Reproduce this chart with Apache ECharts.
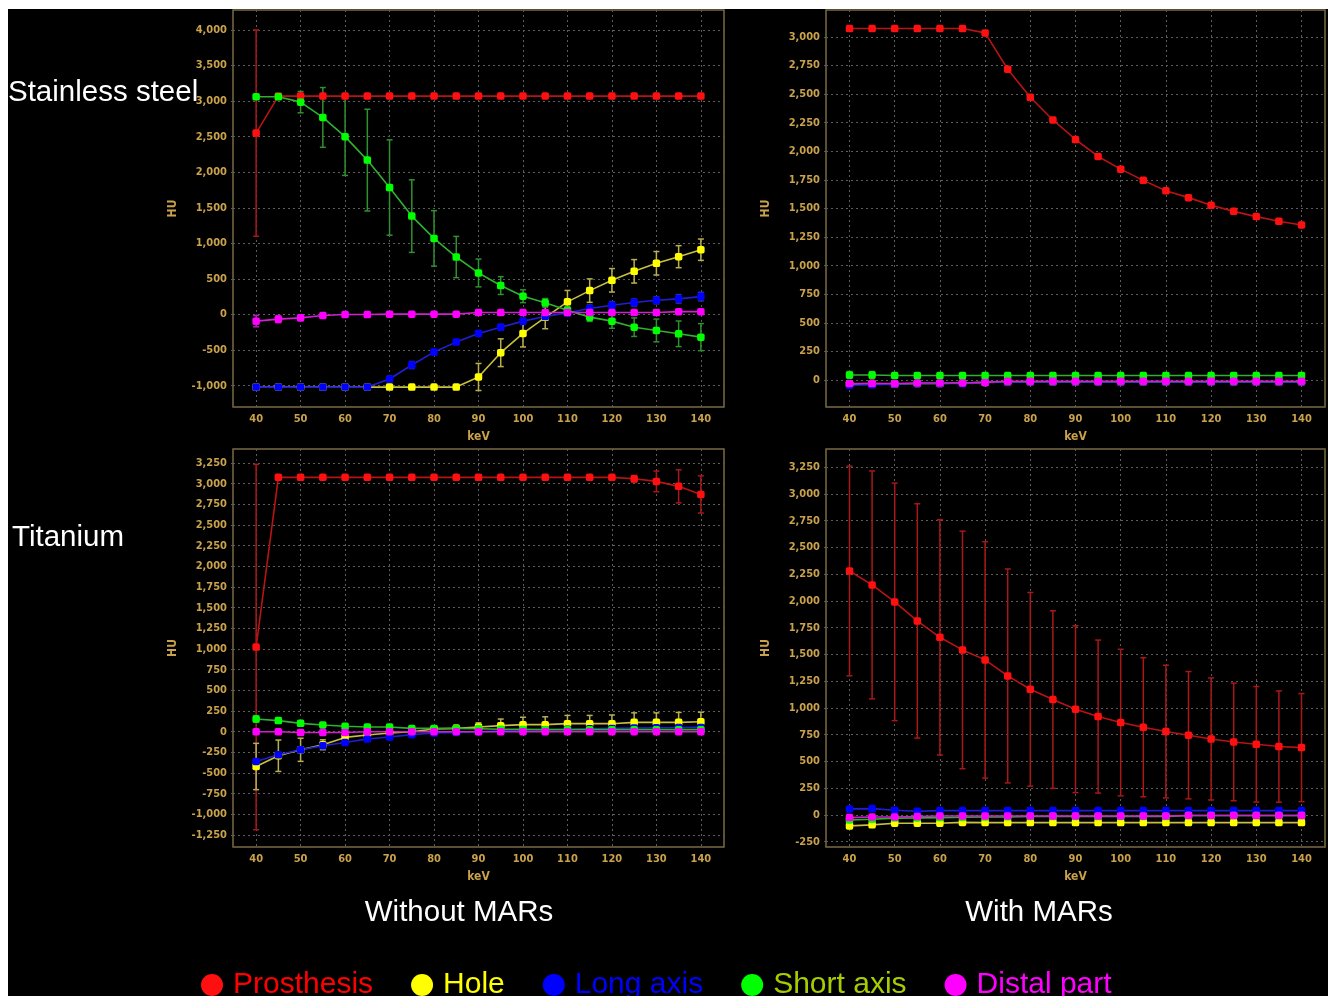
<!DOCTYPE html>
<html>
<head>
<meta charset="utf-8">
<script src="https://cdn.jsdelivr.net/npm/echarts@6.0.0/dist/echarts.min.js"></script>
<style>
  html, body { margin: 0; padding: 0; background: #fff; }
  #main { position: absolute; left: 8px; top: 9px; width: 1320px; height: 987px; background: #000; }
</style>
</head>
<body>
<div id="main"></div>
<script>
// energies (keV)
var keV = [40, 45, 50, 55, 60, 65, 70, 75, 80, 85, 90, 95, 100, 105, 110, 115, 120, 125, 130, 135, 140];
var xTicks = [40, 50, 60, 70, 80, 90, 100, 110, 120, 130, 140];

// stainless steel, without MARs
var ssNoProsthesis = [2550, 3070, 3070, 3070, 3070, 3070, 3070, 3070, 3070, 3070, 3070, 3070, 3070, 3070, 3070, 3070, 3070, 3070, 3070, 3070, 3070];
var ssNoProsthesisErr = [1450, 0, 0, 0, 0, 0, 0, 0, 0, 0, 0, 0, 0, 0, 0, 0, 0, 0, 0, 0, 0];
var ssNoHole = [-1020, -1020, -1020, -1020, -1020, -1020, -1020, -1020, -1020, -1020, -878, -537, -266, -40, 178, 336, 481, 607, 720, 813, 911];
var ssNoHoleErr = [0, 0, 0, 0, 0, 0, 0, 0, 0, 10, 190, 195, 190, 160, 160, 165, 165, 165, 165, 155, 150];
var ssNoLong = [-1020, -1020, -1020, -1020, -1020, -1020, -906, -710, -528, -388, -266, -178, -93, -28, 23, 84, 131, 168, 200, 220, 252];
var ssNoLongErr = [10, 10, 10, 10, 10, 10, 40, 50, 30, 30, 40, 40, 40, 40, 40, 50, 50, 50, 50, 60, 60];
var ssNoShort = [3060, 3060, 2985, 2770, 2500, 2170, 1785, 1383, 1070, 808, 584, 407, 257, 164, 60, -37, -93, -178, -224, -271, -318];
var ssNoShortErr = [0, 0, 150, 420, 545, 715, 670, 510, 390, 290, 195, 125, 90, 60, 50, 60, 100, 130, 160, 180, 190];
var ssNoDistal = [-93, -65, -47, -14, 0, 0, 5, 5, 5, 5, 28, 28, 28, 28, 28, 28, 28, 28, 28, 40, 40];
var ssNoDistalErr = [80, 50, 40, 20, 15, 10, 10, 10, 10, 10, 10, 10, 10, 10, 10, 10, 10, 10, 10, 10, 10];

// stainless steel, with MARs
var ssMarProsthesis = [3073, 3073, 3073, 3073, 3073, 3073, 3035, 2718, 2472, 2274, 2103, 1955, 1844, 1746, 1655, 1595, 1528, 1475, 1429, 1388, 1356];
var ssMarHole = [-35, -30, -35, -30, -30, -25, -20, -15, -15, -15, -15, -15, -15, -15, -15, -15, -15, -15, -15, -15, -15];
var ssMarLong = [-45, -40, -35, -30, -30, -30, -20, -15, -15, -15, -15, -15, -15, -15, -15, -15, -15, -15, -15, -15, -15];
var ssMarShort = [45, 45, 40, 40, 40, 40, 40, 40, 40, 40, 40, 40, 40, 40, 40, 40, 40, 40, 40, 40, 40];
var ssMarShortErr = [30, 30, 0, 0, 0, 0, 0, 0, 0, 0, 0, 0, 0, 0, 0, 0, 0, 0, 0, 0, 0];
var ssMarDistal = [-30, -30, -30, -25, -25, -25, -20, -10, -10, -10, -10, -10, -10, -10, -10, -10, -10, -10, -10, -10, -10];

// titanium, without MARs
var tiNoProsthesis = [1024, 3077, 3077, 3077, 3077, 3077, 3077, 3077, 3077, 3077, 3077, 3077, 3077, 3077, 3077, 3077, 3077, 3060, 3028, 2968, 2870];
var tiNoProsthesisErr = [2210, 0, 0, 0, 0, 0, 0, 0, 0, 0, 0, 0, 0, 0, 0, 0, 0, 40, 125, 200, 225];
var tiNoHole = [-421, -291, -219, -158, -69, -40, -16, 0, 32, 40, 57, 73, 85, 85, 97, 97, 97, 113, 113, 113, 121];
var tiNoHoleErr = [280, 190, 140, 60, 30, 20, 20, 20, 30, 40, 50, 80, 90, 95, 100, 100, 105, 115, 115, 120, 115];
var tiNoLong = [-360, -279, -219, -170, -130, -89, -65, -36, -16, -8, 0, 10, 20, 25, 30, 35, 40, 45, 48, 50, 52];
var tiNoShort = [154, 134, 101, 81, 65, 57, 57, 40, 40, 40, 35, 30, 28, 25, 25, 25, 25, 25, 25, 25, 25];
var tiNoShortErr = [40, 30, 25, 15, 10, 10, 10, 10, 10, 10, 10, 10, 10, 10, 10, 10, 10, 10, 10, 10, 10];
var tiNoDistal = [0, 0, -10, -10, -10, 0, 0, 0, 0, 0, 0, 0, 0, 0, 0, 0, 0, 0, 0, 0, 0];

// titanium, with MARs
var tiMarProsthesis = [2280, 2150, 1991, 1813, 1660, 1542, 1449, 1299, 1174, 1078, 988, 919, 863, 819, 779, 745, 710, 682, 660, 639, 629];
var tiMarProsthesisErr = [980, 1065, 1110, 1095, 1100, 1110, 1105, 1000, 905, 830, 780, 715, 685, 650, 620, 595, 570, 550, 540, 520, 505];
var tiMarHole = [-103, -93, -78, -78, -78, -70, -72, -72, -72, -72, -72, -72, -72, -72, -72, -72, -72, -72, -72, -72, -72];
var tiMarLong = [56, 59, 44, 34, 40, 40, 40, 40, 40, 40, 40, 40, 40, 40, 40, 40, 40, 40, 40, 40, 40];
var tiMarShort = [-47, -40, -30, -28, -25, -22, -20, -18, -15, -15, -15, -15, -15, -15, -15, -6, -6, -6, -6, -6, -6];
var tiMarDistal = [-25, -20, -20, -15, -10, -10, -10, -10, -10, -10, -10, -10, -10, -10, -10, -5, -5, -5, -5, -5, -5];

var yTicksTL = [-1000, -500, 0, 500, 1000, 1500, 2000, 2500, 3000, 3500, 4000];
var yTicksTR = [0, 250, 500, 750, 1000, 1250, 1500, 1750, 2000, 2250, 2500, 2750, 3000];
var yTicksBL = [-1250, -1000, -750, -500, -250, 0, 250, 500, 750, 1000, 1250, 1500, 1750, 2000, 2250, 2500, 2750, 3000, 3250];
var yTicksBR = [-250, 0, 250, 500, 750, 1000, 1250, 1500, 1750, 2000, 2250, 2500, 2750, 3000, 3250];

var names = ['Prosthesis', 'Hole', 'Long axis', 'Short axis', 'Distal part'];
var dotColor = { 'Prosthesis': '#ff1010', 'Hole': '#ffff00', 'Long axis': '#0000ff', 'Short axis': '#00ff00', 'Distal part': '#ff00ff' };
var lineColor = { 'Prosthesis': '#b81414', 'Hole': '#c8c040', 'Long axis': '#2020d0', 'Short axis': '#30b030', 'Distal part': '#d020d0' };
var barColor = { 'Prosthesis': '#a81818', 'Hole': '#b8b050', 'Long axis': '#2828c0', 'Short axis': '#309030', 'Distal part': '#b020b0' };
var legendText = { 'Prosthesis': '#ff0000', 'Hole': '#ffff00', 'Long axis': '#0000ff', 'Short axis': '#a8cc00', 'Distal part': '#ff00ff' };

var tan = '#c9a24b';
var frame = '#7a6a45';
var grids = [
  { left: 225, top: 1, width: 491, height: 397 },
  { left: 818, top: 1, width: 499, height: 397 },
  { left: 225, top: 440, width: 491, height: 398 },
  { left: 818, top: 440, width: 499, height: 398 }
];
var yRanges = [[-1300, 4280], [-235, 3235], [-1395, 3420], [-300, 3420]];
var yTicks = [yTicksTL, yTicksTR, yTicksBL, yTicksBR];

function fmt(v) { return Number(v).toLocaleString('en-US'); }

var dotted = { color: '#5c5c5c', type: [2, 3], width: 1 };

var xAxes = grids.map(function (g, i) {
  return {
    type: 'value', gridIndex: i, min: 34.8, max: 145.2,
    name: 'keV', nameLocation: 'middle', nameGap: 24,
    nameTextStyle: { color: tan, fontSize: 12, fontWeight: 'bold', fontFamily: 'DejaVu Sans Condensed' },
    axisLine: { show: false },
    axisTick: { show: true, customValues: xTicks, length: 4, lineStyle: dotted },
    axisLabel: { customValues: xTicks, color: tan, fontSize: 11, fontWeight: 'bold', fontFamily: 'DejaVu Sans Condensed', margin: 7 },
    splitLine: { show: true, lineStyle: dotted }
  };
});
var yAxes = grids.map(function (g, i) {
  return {
    type: 'value', gridIndex: i, min: yRanges[i][0], max: yRanges[i][1],
    name: 'HU', nameLocation: 'middle', nameGap: 54,
    nameTextStyle: { color: tan, fontSize: 12, fontWeight: 'bold', fontFamily: 'DejaVu Sans Condensed' },
    axisLine: { show: false },
    axisTick: { show: true, customValues: yTicks[i], length: 5, lineStyle: dotted },
    axisLabel: { customValues: yTicks[i], color: tan, fontSize: 11, fontWeight: 'bold', fontFamily: 'DejaVu Sans Condensed', margin: 6, formatter: fmt },
    splitLine: { show: true, lineStyle: dotted }
  };
});

function pts(vals) { return keV.map(function (k, i) { return [k, vals[i]]; }); }
function bars(vals, errs) {
  return keV.map(function (k, i) { return [k, vals[i] - errs[i], vals[i] + errs[i]]; })
    .filter(function (d) { return d[2] > d[1]; });
}

var series = [];
function addPanel(gi, set) {
  // set: {name: [values, errors]}
  names.forEach(function (n) {
    var vals = set[n][0], errs = set[n][1];
    if (errs) {
      var c = barColor[n];
      series.push({
        type: 'custom', name: n + ' err', xAxisIndex: gi, yAxisIndex: gi, z: 1,
        data: bars(vals, errs), encode: { x: 0, y: [1, 2] }, silent: true,
        renderItem: function (params, api) {
          var hi = api.coord([api.value(0), api.value(2)]);
          var lo = api.coord([api.value(0), api.value(1)]);
          var w = 3;
          var st = { stroke: c, lineWidth: 1.5 };
          return {
            type: 'group', children: [
              { type: 'line', shape: { x1: hi[0], y1: hi[1], x2: lo[0], y2: lo[1] }, style: st },
              { type: 'line', shape: { x1: hi[0] - w, y1: hi[1], x2: hi[0] + w, y2: hi[1] }, style: st },
              { type: 'line', shape: { x1: lo[0] - w, y1: lo[1], x2: lo[0] + w, y2: lo[1] }, style: st }
            ]
          };
        }
      });
    }
    series.push({
      type: 'line', name: n, xAxisIndex: gi, yAxisIndex: gi, z: 2,
      data: pts(vals), symbol: 'roundRect', symbolSize: 7.5, showSymbol: true,
      itemStyle: { color: dotColor[n], borderWidth: 0 },
      lineStyle: { color: lineColor[n], width: 1.6 },
      animation: false
    });
  });
}

addPanel(0, {
  'Prosthesis': [ssNoProsthesis, ssNoProsthesisErr],
  'Hole': [ssNoHole, ssNoHoleErr],
  'Long axis': [ssNoLong, ssNoLongErr],
  'Short axis': [ssNoShort, ssNoShortErr],
  'Distal part': [ssNoDistal, ssNoDistalErr]
});
addPanel(1, {
  'Prosthesis': [ssMarProsthesis],
  'Hole': [ssMarHole],
  'Long axis': [ssMarLong],
  'Short axis': [ssMarShort, ssMarShortErr],
  'Distal part': [ssMarDistal]
});
addPanel(2, {
  'Prosthesis': [tiNoProsthesis, tiNoProsthesisErr],
  'Hole': [tiNoHole, tiNoHoleErr],
  'Long axis': [tiNoLong],
  'Short axis': [tiNoShort, tiNoShortErr],
  'Distal part': [tiNoDistal]
});
addPanel(3, {
  'Prosthesis': [tiMarProsthesis, tiMarProsthesisErr],
  'Hole': [tiMarHole],
  'Long axis': [tiMarLong],
  'Short axis': [tiMarShort],
  'Distal part': [tiMarDistal]
});

var bigText = { fill: '#ffffff', fontSize: 29.5, fontFamily: 'Liberation Sans, Arial, sans-serif' };

var chart = echarts.init(document.getElementById('main'));
chart.setOption({
  backgroundColor: '#000000',
  animation: false,
  grid: grids.map(function (g) {
    return Object.assign({ show: true, borderColor: frame, borderWidth: 1.5, backgroundColor: '#000' }, g);
  }),
  xAxis: xAxes,
  yAxis: yAxes,
  legend: {
    left: 188, top: 956, selectedMode: false, icon: 'circle',
    itemWidth: 22, itemHeight: 22, itemGap: 38,
    data: names.map(function (n) {
      return { name: n, itemStyle: { color: dotColor[n] }, textStyle: { color: legendText[n] } };
    }),
    textStyle: { fontSize: 30, fontFamily: 'Liberation Sans, Arial, sans-serif', padding: [0, 0, 0, 5] }
  },
  graphic: [
    { type: 'text', left: 0, top: 69, style: Object.assign({ text: 'Stainless steel' }, bigText) },
    { type: 'text', left: 4, top: 514, style: Object.assign({ text: 'Titanium' }, bigText) },
    { type: 'text', x: 451, y: 904, style: Object.assign({ text: 'Without MARs', textAlign: 'center', textVerticalAlign: 'middle' }, bigText) },
    { type: 'text', x: 1031, y: 904, style: Object.assign({ text: 'With MARs', textAlign: 'center', textVerticalAlign: 'middle' }, bigText) }
  ],
  series: series
});
</script>
</body>
</html>
